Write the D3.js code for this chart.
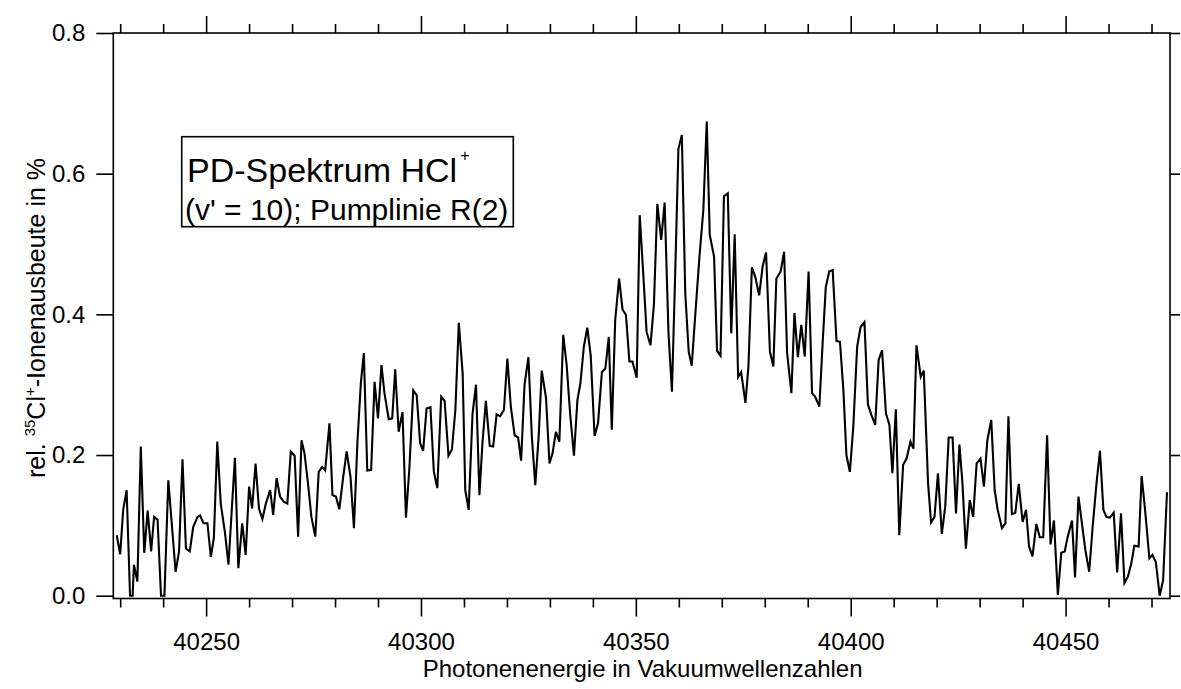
<!DOCTYPE html>
<html>
<head>
<meta charset="utf-8">
<script src="https://cdn.jsdelivr.net/npm/d3@7"></script>
<style>
  body { margin: 0; background: #fff; }
  svg { font-family: "Liberation Sans", Arial, sans-serif; }
</style>
</head>
<body>
<svg id="chart" width="1181" height="689"></svg>
<script>
// wavenumbers (cm^-1)
var wavenumber = [
  40229.2, 40230.0, 40230.7, 40231.5, 40232.3, 40232.9, 40233.2, 40234.0, 40234.8, 40235.6,
  40236.4, 40237.2, 40237.9, 40238.7, 40239.5, 40240.3, 40241.2, 40242.9, 40243.7, 40244.5,
  40245.3, 40246.2, 40247.0, 40248.0, 40248.6, 40249.4, 40250.3, 40251.1, 40251.8, 40252.6,
  40253.4, 40254.4, 40255.2, 40256.7, 40257.5, 40258.4, 40259.2, 40260.0, 40260.7, 40261.5,
  40262.3, 40263.1, 40263.9, 40264.9, 40265.6, 40266.4, 40267.2, 40268.0, 40268.9, 40269.7,
  40270.6, 40271.4, 40272.2, 40272.9, 40273.7, 40274.5, 40275.4, 40276.2, 40277.0, 40277.7,
  40278.7, 40279.4, 40280.2, 40281.0, 40281.9, 40282.7, 40283.6, 40284.4, 40285.2, 40286.0,
  40286.7, 40287.5, 40288.4, 40289.2, 40290.0, 40290.8, 40291.5, 40292.5, 40293.3, 40294.0,
  40294.8, 40295.7, 40296.5, 40297.3, 40298.2, 40299.0, 40299.8, 40300.5, 40301.3, 40302.2,
  40303.0, 40303.8, 40304.7, 40305.5, 40306.4, 40307.2, 40308.0, 40308.8, 40309.7, 40310.3,
  40311.1, 40312.0, 40312.8, 40313.6, 40314.3, 40315.1, 40316.0, 40316.8, 40317.6, 40318.4,
  40319.3, 40320.1, 40320.9, 40321.8, 40322.6, 40323.3, 40324.1, 40325.0, 40325.8, 40326.6,
  40327.4, 40328.1, 40329.1, 40329.9, 40330.6, 40331.4, 40332.2, 40333.1, 40333.9, 40334.7,
  40335.6, 40336.4, 40337.1, 40337.9, 40338.7, 40339.5, 40340.4, 40341.2, 40342.1, 40342.9,
  40343.7, 40344.4, 40345.2, 40346.1, 40346.9, 40347.7, 40348.5, 40349.2, 40350.2, 40350.9,
  40351.7, 40352.5, 40353.4, 40354.2, 40355.0, 40355.9, 40356.7, 40357.6, 40358.4, 40359.2,
  40359.9, 40360.7, 40361.5, 40362.3, 40363.0, 40363.8, 40364.8, 40365.7, 40366.5, 40367.2,
  40368.2, 40368.9, 40369.7, 40370.5, 40371.4, 40372.2, 40373.0, 40373.8, 40374.5, 40375.5,
  40376.2, 40377.0, 40377.8, 40378.7, 40379.5, 40380.3, 40381.2, 40382.0, 40382.7, 40383.7,
  40384.5, 40385.2, 40386.2, 40386.9, 40387.7, 40388.5, 40389.3, 40390.2, 40391.0, 40391.7,
  40392.7, 40393.5, 40394.2, 40395.0, 40395.8, 40396.7, 40397.5, 40398.3, 40399.0, 40399.8,
  40400.6, 40401.5, 40402.3, 40403.2, 40404.0, 40404.8, 40405.7, 40406.5, 40407.3, 40408.2,
  40409.0, 40409.7, 40410.5, 40411.3, 40412.2, 40413.0, 40413.9, 40414.6, 40415.3, 40416.3,
  40417.0, 40418.0, 40418.7, 40419.5, 40420.3, 40421.2, 40422.0, 40422.8, 40423.7, 40424.5,
  40425.3, 40426.0, 40426.8, 40427.7, 40428.5, 40429.3, 40430.2, 40431.0, 40431.8, 40432.7,
  40433.5, 40434.2, 40435.2, 40436.0, 40436.7, 40437.5, 40438.3, 40439.1, 40440.0, 40440.8,
  40441.5, 40442.3, 40443.2, 40444.0, 40444.8, 40445.7, 40446.5, 40447.3, 40448.2, 40449.0,
  40449.8, 40450.5, 40451.5, 40452.2, 40453.0, 40453.8, 40454.6, 40455.5, 40456.3, 40457.2,
  40458.0, 40458.8, 40459.5, 40460.3, 40461.2, 40462.0, 40462.9, 40463.7, 40464.5, 40465.3,
  40466.0, 40467.0, 40467.7, 40468.5, 40469.5, 40470.2, 40471.0, 40471.9, 40472.7, 40473.6
];

// relative 35Cl+ ion yield in %
var ionYield = [
  0.086, 0.059, 0.122, 0.150, 0.000, 0.000, 0.044, 0.020, 0.212, 0.061,
  0.121, 0.063, 0.112, 0.108, 0.000, 0.000, 0.164, 0.034, 0.063, 0.194,
  0.067, 0.063, 0.098, 0.112, 0.114, 0.103, 0.103, 0.055, 0.082, 0.219,
  0.131, 0.089, 0.044, 0.196, 0.039, 0.103, 0.058, 0.155, 0.124, 0.188,
  0.124, 0.109, 0.131, 0.150, 0.115, 0.167, 0.141, 0.134, 0.131, 0.205,
  0.199, 0.084, 0.221, 0.202, 0.160, 0.112, 0.084, 0.176, 0.183, 0.178,
  0.245, 0.143, 0.141, 0.123, 0.169, 0.205, 0.169, 0.096, 0.217, 0.302,
  0.345, 0.178, 0.179, 0.304, 0.252, 0.328, 0.288, 0.251, 0.252, 0.322,
  0.233, 0.261, 0.111, 0.181, 0.292, 0.285, 0.217, 0.206, 0.266, 0.268,
  0.176, 0.153, 0.283, 0.277, 0.199, 0.208, 0.264, 0.388, 0.316, 0.150,
  0.122, 0.259, 0.300, 0.143, 0.217, 0.277, 0.213, 0.212, 0.258, 0.255,
  0.264, 0.337, 0.269, 0.228, 0.225, 0.192, 0.300, 0.339, 0.226, 0.157,
  0.228, 0.320, 0.281, 0.188, 0.202, 0.233, 0.219, 0.371, 0.328, 0.259,
  0.199, 0.278, 0.302, 0.354, 0.381, 0.341, 0.227, 0.245, 0.318, 0.323,
  0.368, 0.236, 0.392, 0.451, 0.407, 0.399, 0.333, 0.333, 0.310, 0.541,
  0.460, 0.375, 0.356, 0.413, 0.557, 0.506, 0.559, 0.373, 0.290, 0.468,
  0.635, 0.655, 0.430, 0.347, 0.327, 0.397, 0.482, 0.548, 0.674, 0.513,
  0.482, 0.348, 0.341, 0.568, 0.572, 0.373, 0.514, 0.311, 0.318, 0.274,
  0.326, 0.467, 0.453, 0.427, 0.468, 0.488, 0.347, 0.326, 0.451, 0.461,
  0.489, 0.345, 0.288, 0.402, 0.339, 0.385, 0.340, 0.461, 0.288, 0.283,
  0.269, 0.363, 0.439, 0.461, 0.463, 0.362, 0.361, 0.292, 0.200, 0.176,
  0.240, 0.354, 0.382, 0.389, 0.272, 0.257, 0.243, 0.335, 0.349, 0.259,
  0.243, 0.174, 0.265, 0.086, 0.186, 0.195, 0.219, 0.209, 0.356, 0.311,
  0.320, 0.160, 0.104, 0.112, 0.174, 0.088, 0.127, 0.225, 0.225, 0.117,
  0.215, 0.160, 0.067, 0.136, 0.112, 0.188, 0.195, 0.155, 0.221, 0.250,
  0.150, 0.122, 0.096, 0.103, 0.255, 0.116, 0.118, 0.159, 0.105, 0.122,
  0.070, 0.056, 0.102, 0.083, 0.083, 0.228, 0.073, 0.107, 0.001, 0.061,
  0.063, 0.084, 0.107, 0.026, 0.141, 0.103, 0.065, 0.034, 0.098, 0.160,
  0.206, 0.122, 0.112, 0.111, 0.118, 0.033, 0.117, 0.018, 0.027, 0.046,
  0.071, 0.070, 0.170, 0.122, 0.053, 0.058, 0.048, 0.000, 0.022, 0.147
];

var xMajorTicks = [40250, 40300, 40350, 40400, 40450];
var xMinorTicks = d3.range(40230, 40471, 10).filter(function(d) { return d % 50 !== 0; });
var yTicks = [0.0, 0.2, 0.4, 0.6, 0.8];

var xDomain = [40228.4, 40474.3];
var yDomain = [0, 0.8];

var svg = d3.select("#chart");
var plotLeft = 113.3, plotRight = 1170, plotTop = 33, yZero = 595.7, plotBottom = 598.5;

var x = d3.scaleLinear().domain(xDomain).range([plotLeft, plotRight]);
var y = d3.scaleLinear().domain(yDomain).range([yZero, plotTop]);

var data = wavenumber.map(function(w, i) { return [w, ionYield[i]]; });

svg.append("defs").append("clipPath").attr("id", "plotclip")
  .append("rect")
  .attr("x", plotLeft).attr("y", plotTop)
  .attr("width", plotRight - plotLeft).attr("height", plotBottom - plotTop);

var line = d3.line()
  .x(function(d) { return x(d[0]); })
  .y(function(d) { return y(d[1]); });

svg.append("path")
  .datum(data)
  .attr("clip-path", "url(#plotclip)")
  .attr("fill", "none")
  .attr("stroke", "#000")
  .attr("stroke-width", 2.1)
  .attr("d", line);

// frame
svg.append("rect")
  .attr("x", plotLeft).attr("y", plotTop)
  .attr("width", plotRight - plotLeft).attr("height", plotBottom - plotTop)
  .attr("fill", "none")
  .attr("stroke", "#000")
  .attr("stroke-width", 1.6);

function styleAxis(g) {
  g.select(".domain").remove();
  g.selectAll(".tick line").attr("stroke", "#000").attr("stroke-width", 1.6);
  g.selectAll(".tick text").attr("fill", "#000").attr("font-size", 24)
    .attr("font-family", "'Liberation Sans', Arial, sans-serif");
}

// bottom
svg.append("g").attr("transform", "translate(0," + plotBottom + ")")
  .call(d3.axisBottom(x).tickValues(xMajorTicks).tickSize(18).tickPadding(16).tickFormat(d3.format("d")))
  .call(styleAxis);
svg.append("g").attr("transform", "translate(0," + plotBottom + ")")
  .call(d3.axisBottom(x).tickValues(xMinorTicks).tickSize(9).tickFormat(""))
  .call(styleAxis);

// top
svg.append("g").attr("transform", "translate(0," + plotTop + ")")
  .call(d3.axisTop(x).tickValues(xMajorTicks).tickSize(17).tickFormat(""))
  .call(styleAxis);
svg.append("g").attr("transform", "translate(0," + plotTop + ")")
  .call(d3.axisTop(x).tickValues(xMinorTicks).tickSize(9).tickFormat(""))
  .call(styleAxis);

// left
svg.append("g").attr("transform", "translate(" + plotLeft + ",0)")
  .call(d3.axisLeft(y).tickValues(yTicks).tickSize(17).tickPadding(11).tickFormat(d3.format(".1f")))
  .call(styleAxis);

// right
svg.append("g").attr("transform", "translate(" + plotRight + ",0)")
  .call(d3.axisRight(y).tickValues(yTicks).tickSize(10).tickFormat(""))
  .call(styleAxis);

// axis titles
svg.append("text")
  .attr("x", (plotLeft + plotRight) / 2 + 1)
  .attr("y", 677)
  .attr("text-anchor", "middle")
  .attr("font-size", 24)
  .text("Photonenenergie in Vakuumwellenzahlen");

var yl = svg.append("text")
  .attr("transform", "translate(45,318) rotate(-90)")
  .attr("text-anchor", "middle")
  .attr("font-size", 25);
yl.append("tspan").text("rel. ");
yl.append("tspan").attr("font-size", 15).attr("dy", -10).text("35");
yl.append("tspan").attr("dy", 10).text("Cl");
yl.append("tspan").attr("font-size", 15).attr("dy", -10).text("+");
yl.append("tspan").attr("dy", 10).text("-Ionenausbeute in %");

// annotation box
svg.append("rect")
  .attr("x", 181.7).attr("y", 136.7)
  .attr("width", 331.6).attr("height", 90)
  .attr("fill", "#fff")
  .attr("stroke", "#000")
  .attr("stroke-width", 1.6);

var t1 = svg.append("text").attr("x", 187).attr("y", 182).attr("font-size", 34);
t1.append("tspan").text("PD-Spektrum HCl");
t1.append("tspan").attr("font-size", 16).attr("dx", 3).attr("dy", -21).text("+");

svg.append("text").attr("x", 185).attr("y", 220).attr("font-size", 30)
  .text("(v' = 10); Pumplinie R(2)");
</script>
</body>
</html>
